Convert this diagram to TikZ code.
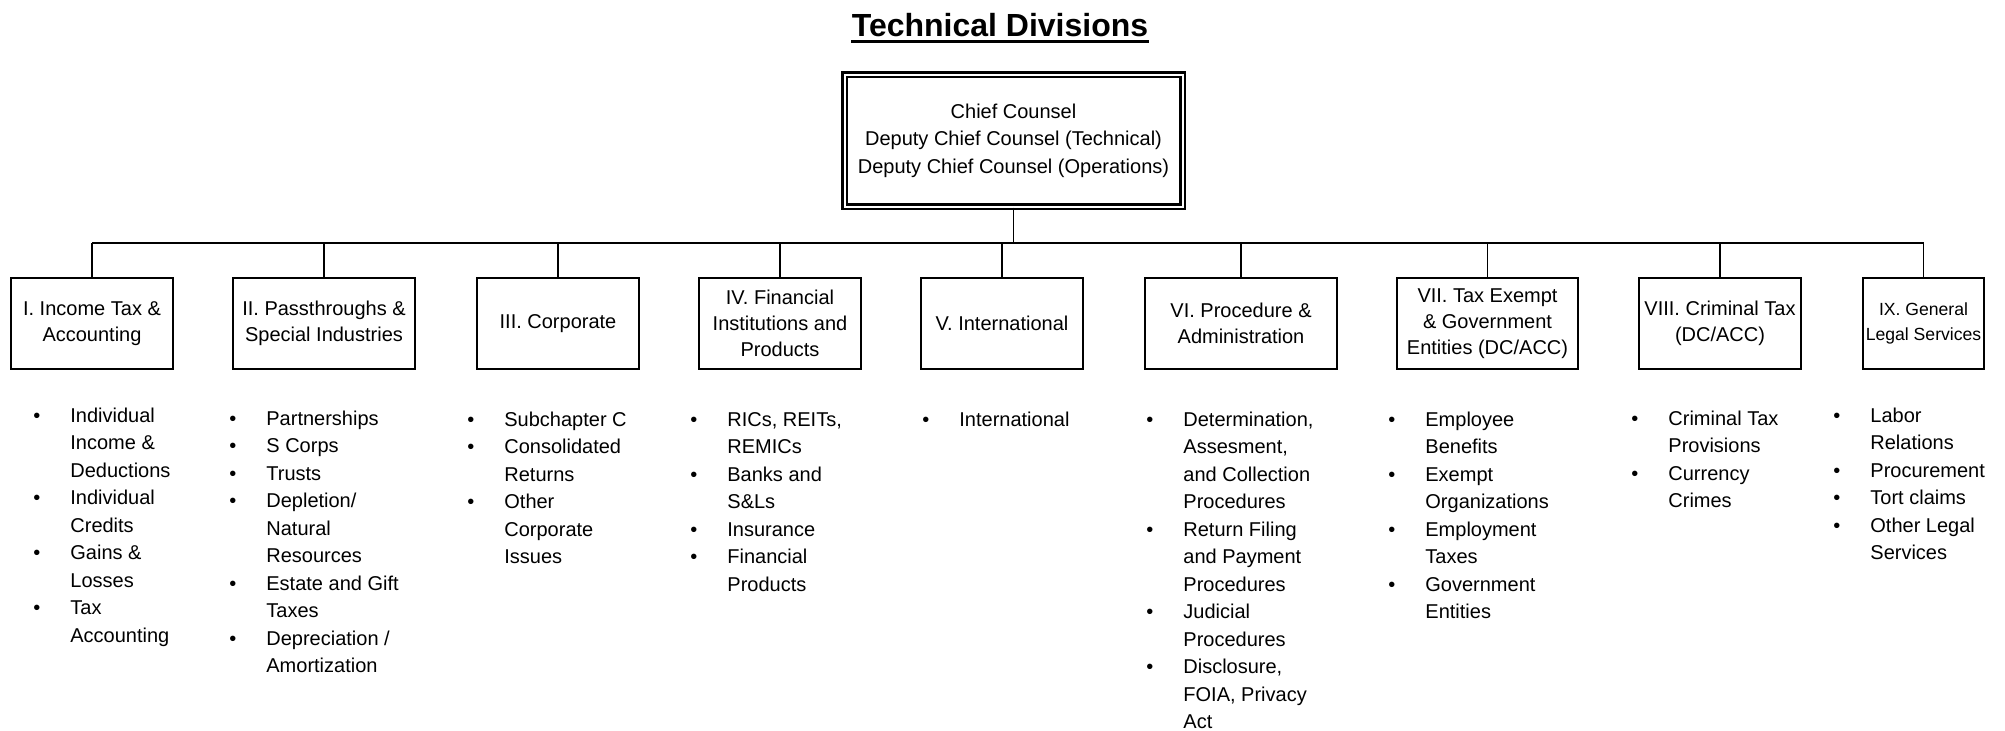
\documentclass[tikz,border=0pt]{standalone}
\usepackage{fontspec}
\setmainfont{Liberation Sans}
\usetikzlibrary{positioning}
\tikzset{
	division/.style={draw, line width=0.65pt, align=center, inner sep=1pt, minimum width=81pt, minimum height=45.5pt, font=\fontsize{10}{13}\selectfont},
	chiefbox/.style={draw, double, double distance=1pt, line width=1.1pt, align=center, minimum width=169pt, minimum height=66pt, font=\fontsize{10}{13.75}\selectfont},
	bullets/.style={anchor=base west, inner sep=0pt, font=\fontsize{10}{13.75}\selectfont},
	link/.style={line width=0.65pt}
}
\newcommand{\itemlist}[1]{\begin{tabular}[t]{@{}p{18.5pt}@{}l@{}}#1\end{tabular}}

\begin{document}
\begin{tikzpicture}[x=0.5pt, y=-0.5pt]
	\useasboundingbox (0,0) rectangle (2005,730);
	\node[font=\fontsize{16}{19}\selectfont\bfseries, inner sep=0pt, anchor=base] (title) at (1000,36) {Technical Divisions};
	\draw[line width=1.5pt] ([yshift=-2.75pt]title.base west) -- ([yshift=-2.75pt]title.base east);
	\node[chiefbox] (chief) at (1013.5,140.5) {Chief Counsel\\Deputy Chief Counsel (Technical)\\Deputy Chief Counsel (Operations)};
	\node[division] (divI) at (92,323.5) {I. Income Tax \&\\Accounting};
	\node[division, minimum width=91pt] (divII) at (324,323.5) {II. Passthroughs \&\\Special Industries};
	\node[division] (divIII) at (558,323.5) {III. Corporate};
	\node[division] (divIV) at (780,323.5) {IV. Financial\\Institutions and\\Products};
	\node[division] (divV) at (1002,323.5) {V. International};
	\node[division, minimum width=96pt] (divVI) at (1241,323.5) {VI. Procedure \&\\Administration};
	\node[division, minimum width=90.5pt] (divVII) at (1487.5,323.5) {VII. Tax Exempt\\\& Government\\Entities (DC/ACC)};
	\node[division] (divVIII) at (1720,323.5) {VIII. Criminal Tax\\(DC/ACC)};
	\node[division, minimum width=60.5pt, inner sep=0pt, font=\fontsize{8.8}{12.5}\selectfont] (divIX) at (1923.5,323.5) {IX. General\\Legal Services};
	\coordinate (bus) at (0,243);
	\draw[link] (chief.south) -- (chief.south |- bus);
	\draw[link] (divI.north |- bus) -- (divIX.north |- bus);
	\foreach \d in {I,II,III,IV,V,VI,VII,VIII,IX} \draw[link] (div\d.north |- bus) -- (div\d.north);
	\node[bullets] (listI) at (33,422) {\itemlist{\textbullet & Individual\\ & Income \&\\ & Deductions\\ \textbullet & Individual\\ & Credits\\ \textbullet & Gains \&\\ & Losses\\ \textbullet & Tax\\ & Accounting}};
	\node[bullets] (listII) at (229,425) {\itemlist{\textbullet & Partnerships\\ \textbullet & S Corps\\ \textbullet & Trusts\\ \textbullet & Depletion/\\ & Natural\\ & Resources\\ \textbullet & Estate and Gift\\ & Taxes\\ \textbullet & Depreciation /\\ & Amortization}};
	\node[bullets] (listIII) at (467,426) {\itemlist{\textbullet & Subchapter C\\ \textbullet & Consolidated\\ & Returns\\ \textbullet & Other\\ & Corporate\\ & Issues}};
	\node[bullets] (listIV) at (690,426) {\itemlist{\textbullet & RICs, REITs,\\ & REMICs\\ \textbullet & Banks and\\ & S\&Ls\\ \textbullet & Insurance\\ \textbullet & Financial\\ & Products}};
	\node[bullets] (listV) at (922,426) {\itemlist{\textbullet & International}};
	\node[bullets] (listVI) at (1146,426) {\itemlist{\textbullet & Determination,\\ & Assesment,\\ & and Collection\\ & Procedures\\ \textbullet & Return Filing\\ & and Payment\\ & Procedures\\ \textbullet & Judicial\\ & Procedures\\ \textbullet & Disclosure,\\ & FOIA, Privacy\\ & Act}};
	\node[bullets] (listVII) at (1388,426) {\itemlist{\textbullet & Employee\\ & Benefits\\ \textbullet & Exempt\\ & Organizations\\ \textbullet & Employment\\ & Taxes\\ \textbullet & Government\\ & Entities}};
	\node[bullets] (listVIII) at (1631,425) {\itemlist{\textbullet & Criminal Tax\\ & Provisions\\ \textbullet & Currency\\ & Crimes}};
	\node[bullets] (listIX) at (1833,422) {\itemlist{\textbullet & Labor\\ & Relations\\ \textbullet & Procurement\\ \textbullet & Tort claims\\ \textbullet & Other Legal\\ & Services}};
\end{tikzpicture}
\end{document}
